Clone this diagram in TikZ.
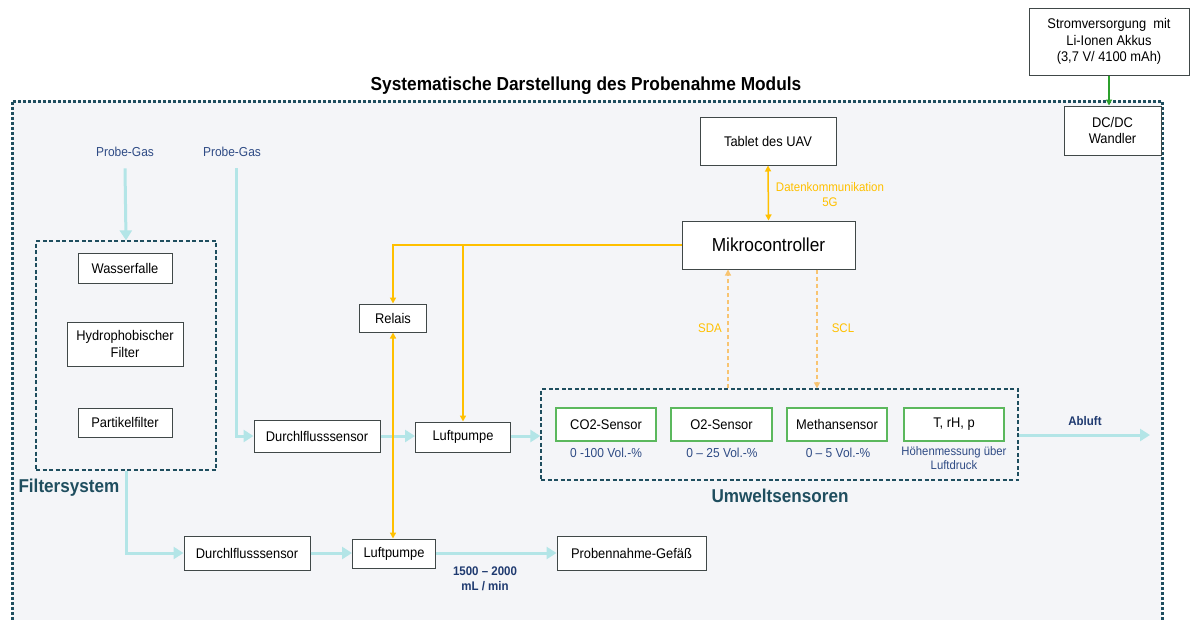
\documentclass[tikz,border=0pt]{standalone}
\usepackage{fontspec}
\setmainfont{Liberation Sans}[FakeStretch=0.92]
\usetikzlibrary{arrows.meta}

\definecolor{frametl}{HTML}{1F4E5F}
\definecolor{panelbg}{HTML}{F4F5F8}
\definecolor{boxline}{HTML}{404848}
\definecolor{signal}{HTML}{FFC000}
\definecolor{signallt}{HTML}{F8C471}
\definecolor{gasflow}{HTML}{B3E5E7}
\definecolor{navy}{HTML}{2F4B85}
\definecolor{navydk}{HTML}{1F3A70}
\definecolor{sensgreen}{HTML}{5BB85D}
\definecolor{powergreen}{HTML}{2CA02C}

\newcommand{\fs}[1]{\fontsize{#1pt}{1.2\dimexpr#1pt\relax}\selectfont}

\tikzset{
  box/.style={draw=boxline, fill=white, line width=1pt, align=center,
    inner sep=0pt, font=\fs{14}},
  sensbox/.style={box, draw=sensgreen, line width=1.2pt},
  group/.style={draw=frametl, dashed, dash pattern=on 4pt off 2.5pt,
    line width=1.3pt, inner sep=0pt},
  flow/.style={draw=gasflow, line width=3pt,
    -{Triangle[length=10pt,width=12pt]}},
  ctrl/.style={draw=signal, line width=1.5pt},
  tip/.style={-{Triangle[length=6pt,width=6pt]}},
  twotips/.style={{Triangle[length=6pt,width=6pt]}-{Triangle[length=6pt,width=6pt]}},
  bus/.style={draw=signallt, line width=1.2pt, dash pattern=on 4pt off 3pt,
    -{Triangle[length=6pt,width=6pt]}},
  gaslabel/.style={text=navy, font=\fs{13}},
  rangelabel/.style={text=navy, font=\fs{13}, align=center},
  siglabel/.style={text=signal, font=\fs{12.5}, align=center},
  grouplabel/.style={text=frametl, font=\bfseries\fs{18.6}},
}

\begin{document}
\begin{tikzpicture}[x=1pt, y=-1pt]
\useasboundingbox (0,0) rectangle (1191,619);
\fill[white] (0,0) rectangle (1191,619);

% module housing
\fill[panelbg] (12,101) rectangle (1162,640);
\draw[frametl, line width=3pt, dash pattern=on 2.8pt off 2.2pt]
  (12,640) -- (12,101) -- (1162,101) -- (1162,640);

\node[font=\bfseries\fs{18.8}] (title) at (586,86)
  {Systematische Darstellung des Probenahme Moduls};

% power supply
\node[box, minimum width=160pt, minimum height=67pt] (strom) at (1109,41.5)
  {Stromversorgung\ \ mit\\Li-Ionen Akkus\\(3,7 V/ 4100 mAh)};
\node[box, minimum width=97pt, minimum height=49pt] (dc) at (1112.5,130.5)
  {DC/DC\\Wandler};
\draw[powergreen, line width=1.3pt, tip]
  (strom.south) -- (strom.south |- dc.north);

% control
\node[box, minimum width=136pt, minimum height=48pt] (tablet) at (768,141)
  {Tablet des UAV};
\node[box, minimum width=173pt, minimum height=48pt, font=\fs{18.8}] (mc)
  at (768.5,245) {Mikrocontroller};
\node[box, minimum width=67pt, minimum height=28pt] (relais) at (393,318)
  {Relais};

% filter system
\node[group, minimum width=180pt, minimum height=229pt] (filt) at (126,355.5) {};
\node[box, minimum width=94pt, minimum height=30pt] (wasser) at (125,268)
  {Wasserfalle};
\node[box, minimum width=116pt, minimum height=44pt] (hydro) at (125,344)
  {Hydrophobischer\\Filter};
\node[box, minimum width=94pt, minimum height=29pt] (partikel) at (125,422.5)
  {Partikelfilter};
\node[grouplabel, anchor=west] (filtlbl) at (15,488) {Filtersystem};

% gas inlets
\node[gaslabel] (pg1) at (125,152) {Probe-Gas};
\node[gaslabel] (pg2) at (232,152) {Probe-Gas};

% measuring line
\node[box, minimum width=126pt, minimum height=32pt] (ds1) at (317,436)
  {Durchlflusssensor};
\node[box, minimum width=95pt, minimum height=30pt] (lp1) at (463,437)
  {Luftpumpe};

% environmental sensors
\node[group, minimum width=477pt, minimum height=91pt] (sens) at (779.5,434.5) {};
\node[sensbox, minimum width=100pt, minimum height=33pt] (co2) at (606,424.5)
  {CO2-Sensor};
\node[sensbox, minimum width=101pt, minimum height=33pt] (o2) at (721.5,424.5)
  {O2-Sensor};
\node[sensbox, minimum width=100pt, minimum height=33pt] (meth) at (837,424.5)
  {Methansensor};
\node[sensbox, minimum width=100pt, minimum height=33pt] (trh) at (954,424.5)
  {T, rH, p};
\node[rangelabel] (co2r) at (606,453) {0 -100 Vol.-\%};
\node[rangelabel] (o2r) at (722,453) {0 -- 25 Vol.-\%};
\node[rangelabel] (methr) at (838,453) {0 -- 5 Vol.-\%};
\node[rangelabel, font=\fs{12.3}, inner sep=0pt] (trhr) at (954,458)
  {Höhenmessung über\\Luftdruck};
\node[grouplabel] (senslbl) at (780,496) {Umweltsensoren};

% sampling line
\node[box, minimum width=126pt, minimum height=34pt] (ds2) at (247,553)
  {Durchlflusssensor};
\node[box, minimum width=83pt, minimum height=29pt] (lp2) at (394,553.5)
  {Luftpumpe};
\node[box, minimum width=149pt, minimum height=34pt] (gef) at (631.5,553)
  {Probennahme-Gefäß};
\node[text=navydk, font=\bfseries\fs{12.5}, align=center] (rate) at (485,578.5)
  {1500 -- 2000\\mL / min};

% gas flow
\draw[flow] ([yshift=-8pt]pg1.south) -- (filt.north);
\draw[flow] ([xshift=4pt,yshift=-8pt]pg2.south) |- (ds1.west);
\draw[flow] (ds1.east) -- (ds1.east -| lp1.west);
\draw[flow] (lp1.east |- ds1.east) -- (lp1.east |- ds1.east -| sens.west);
\coordinate (abluftend) at (1150,435);
\draw[flow] (sens.east |- abluftend) -- (abluftend);
\node[text=navydk, font=\bfseries\fs{12.5}] (abluft) at (1085,421) {Abluft};
\draw[flow] (filt.south) |- (ds2.west);
\draw[flow] (ds2.east) -- (ds2.east -| lp2.west);
\draw[flow] (lp2.east |- ds2.east) -- (gef.west);

% control lines
\draw[ctrl, tip] (mc.west) -| (relais.north);
\draw[ctrl, tip] (lp1.north |- mc.west) -- (lp1.north);
\draw[ctrl, twotips] (relais.south) -- (relais.south |- lp2.north);
\draw[ctrl, twotips] (tablet.south) -- (mc.north);
\node[siglabel] (komm) at (830,195) {Datenkommunikation\\5G};

% I2C bus
\coordinate (sdax) at (728,320);
\coordinate (sclx) at (817,320);
\draw[bus] (sens.north -| sdax) -- (mc.south -| sdax);
\draw[bus] (mc.south -| sclx) -- (sens.north -| sclx);
\node[siglabel] (sda) at (710,328) {SDA};
\node[siglabel] (scl) at (843,328) {SCL};
\end{tikzpicture}
\end{document}
